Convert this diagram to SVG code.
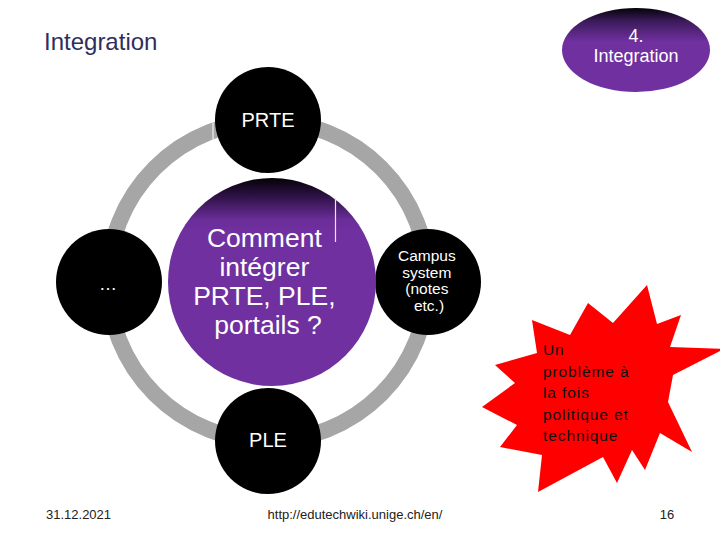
<svg xmlns="http://www.w3.org/2000/svg" width="720" height="540" viewBox="0 0 720 540">
  <defs>
    <linearGradient id="purpleTop" x1="0" y1="0" x2="0" y2="1">
      <stop offset="0" stop-color="#050208"/>
      <stop offset="0.08" stop-color="#2a1040"/>
      <stop offset="0.2" stop-color="#6a2d99"/>
      <stop offset="0.26" stop-color="#7030a0"/>
      <stop offset="1" stop-color="#7030a0"/>
    </linearGradient>
    <linearGradient id="purpleEll" x1="0" y1="0" x2="0" y2="1">
      <stop offset="0" stop-color="#050208"/>
      <stop offset="0.15" stop-color="#3a1a58"/>
      <stop offset="0.4" stop-color="#7030a0"/>
      <stop offset="1" stop-color="#7030a0"/>
    </linearGradient>
    <style>
      .t { font-family: "Liberation Sans", Arial, sans-serif; }
      .w { fill: #ffffff; }
      .node { fill: #000000; }
      .foot { font-size: 13px; fill: #222222; }
    </style>
  </defs>
  <rect width="720" height="540" fill="#ffffff"/>

  <g id="title">
    <text class="t" x="44" y="50" font-size="24" fill="#2e2e5e">Integration</text>
  </g>

  <g id="badge">
    <ellipse cx="636" cy="50" rx="74" ry="42" fill="url(#purpleEll)"/>
    <text class="t w" x="636" y="42" font-size="18" text-anchor="middle">4.</text>
    <text class="t w" x="636" y="62" font-size="18" text-anchor="middle">Integration</text>
  </g>

  <g id="connectors">
    <circle cx="268" cy="281" r="160" fill="none" stroke="#a6a6a6" stroke-width="16"/>
  </g>

  <g id="node-prte">
    <circle class="node" cx="268" cy="120" r="53"/>
    <text class="t w" x="268" y="127" font-size="20" text-anchor="middle">PRTE</text>
  </g>
  <line x1="213" y1="122" x2="213" y2="140" stroke="#f0f0f0" stroke-width="1.2"/>

  <g id="node-ple">
    <circle class="node" cx="268" cy="441" r="53"/>
    <text class="t w" x="268" y="447" font-size="20" text-anchor="middle">PLE</text>
  </g>

  <g id="node-etc">
    <circle class="node" cx="109" cy="282" r="53"/>
    <text class="t w" x="108" y="290" font-size="18" text-anchor="middle">…</text>
  </g>

  <g id="node-campus">
    <circle class="node" cx="428" cy="282" r="53"/>
    <text class="t w" font-size="15.5" text-anchor="middle">
      <tspan x="429" y="261">Campus</tspan>
      <tspan x="429" y="277.5">system</tspan>
      <tspan x="429" y="294">(notes</tspan>
      <tspan x="429" y="310.5">etc.)</tspan>
    </text>
  </g>

  <g id="node-center">
    <circle cx="272" cy="282" r="104" fill="url(#purpleTop)"/>
    <line x1="335.5" y1="198" x2="335.5" y2="242" stroke="#e8e8e8" stroke-width="1.2"/>
    <text class="t w" font-size="26.5" text-anchor="middle">
      <tspan x="268" y="247">Comment</tspan>
      <tspan x="268" y="276">intégrer</tspan>
      <tspan x="268" y="305">PRTE, PLE,</tspan>
      <tspan x="268" y="334">portails ?</tspan>
    </text>
  </g>

  <g id="starburst">
    <polygon fill="#ff0000" points="647,285 657,324 681,315 670,347 724,349 673,375 668,402 692,452 660,433 645,470 632,450 617,483 603,457 538,492 542,455 500,447 517,425 482,407 515,383 495,365 537,353 532,320 570,335 588,303 613,323"/>
    <text class="t" font-size="15.5" fill="#111111" letter-spacing="0.9">
      <tspan x="543" y="355">Un</tspan>
      <tspan x="543" y="376.5">problème à</tspan>
      <tspan x="543" y="398">la fois</tspan>
      <tspan x="543" y="419.5">politique et</tspan>
      <tspan x="543" y="441">technique</tspan>
    </text>
  </g>

  <g id="footer">
    <text class="t foot" x="46" y="519">31.12.2021</text>
    <text class="t foot" x="355" y="519" text-anchor="middle">http://edutechwiki.unige.ch/en/</text>
    <text class="t foot" x="667" y="519" text-anchor="middle">16</text>
  </g>
</svg>
